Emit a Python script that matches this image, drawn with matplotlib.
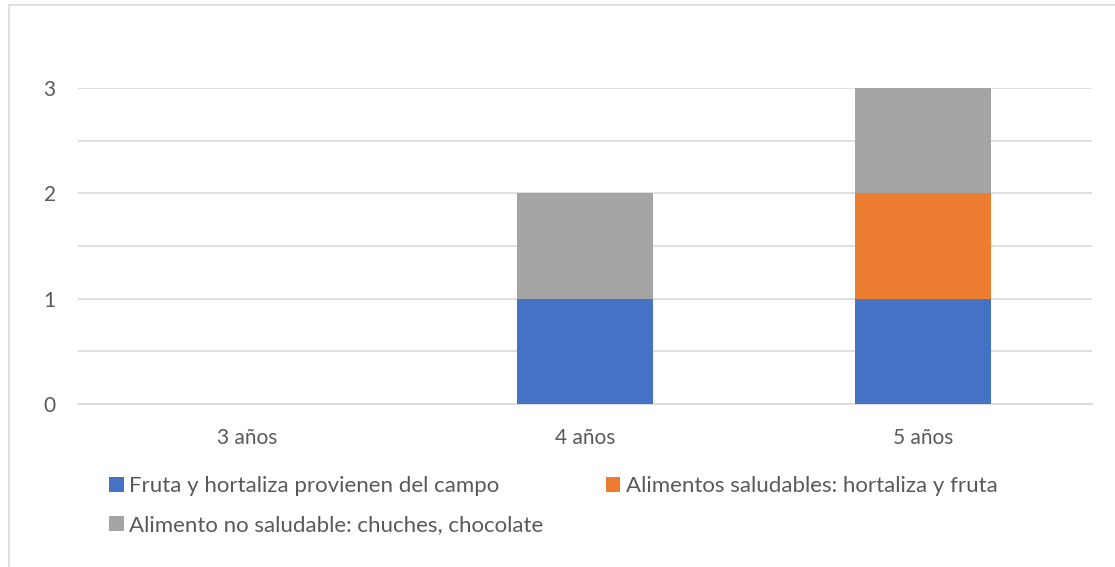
import matplotlib.pyplot as plt
from matplotlib.patches import Rectangle
import numpy as np

# chart data
categories = ['3 años', '4 años', '5 años']
series_names = ['Fruta y hortaliza provienen del campo',
                'Alimentos saludables: hortaliza y fruta',
                'Alimento no saludable: chuches, chocolate']
campo = [0, 1, 1]
saludables = [0, 0, 1]
no_saludable = [0, 1, 1]
colors = ['#4472C4', '#ED7D31', '#A5A5A5']

plt.rcParams['font.family'] = ['Lato', 'DejaVu Sans']
text_color = '#595959'
fs = 15
lfs = 16

W, H = 1115, 567
fig = plt.figure(figsize=(W / 100, H / 100), dpi=100)

# outer chart border (clipped on right/bottom like the source)
fig.patches.append(Rectangle((9 / W, -0.1), 1.2, 1 - 5 / H + 0.1, transform=fig.transFigure,
                             fill=False, edgecolor='#D9D9D9', linewidth=1.2))

# plot area: x 78..1092 px, y 0 at 404 px, 3 at 88 px
ax = fig.add_axes([78 / W, 1 - 404 / H, (1092 - 78) / W, (404 - 88) / H])

x = np.arange(len(categories))
bottom = np.zeros(len(categories))
bars = []
for vals, name, c in zip([campo, saludables, no_saludable], series_names, colors):
    b = ax.bar(x, vals, width=0.4, bottom=bottom, color=c, label=name, zorder=3)
    bars.append(b)
    bottom += np.array(vals)

ax.set_xlim(-0.5, len(categories) - 0.5)
ax.set_ylim(0, 3)
ax.set_yticks([0, 1, 2, 3])
ax.set_yticks(np.arange(0, 3.01, 0.5), minor=True)
ax.grid(axis='y', which='both', color='#D9D9D9', linewidth=1.2, zorder=0)
ax.set_xticks(x)
ax.set_xticklabels(categories)
for s in ['top', 'right', 'left']:
    ax.spines[s].set_visible(False)
ax.spines['bottom'].set_color('#D9D9D9')
ax.spines['bottom'].set_linewidth(1.2)
ax.tick_params(axis='both', which='both', length=0, colors=text_color, labelsize=fs)
ax.tick_params(axis='y', pad=16)
ax.tick_params(axis='x', pad=17)

# legend: row 1 = campo, saludables ; row 2 = no saludable
handles = [bars[0], bars[2], bars[1]]
labels = [series_names[0], series_names[2], series_names[1]]
fig.legend(handles, labels, ncol=2, loc='upper left',
           bbox_to_anchor=(98 / W, 1 - 465 / H), frameon=False,
           fontsize=lfs, labelcolor=text_color, handlelength=0.65, handleheight=0.65,
           handletextpad=0.25, columnspacing=2.8, labelspacing=0.85, borderpad=0)

fig.savefig('out.png', dpi=100)
